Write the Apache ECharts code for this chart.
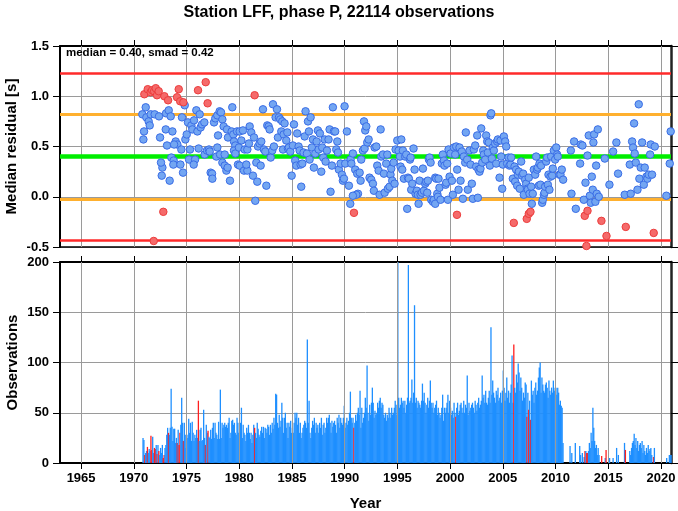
<!DOCTYPE html>
<html><head><meta charset="utf-8">
<script src="https://cdn.jsdelivr.net/npm/echarts@6/dist/echarts.min.js"></script>
<style>html,body{margin:0;padding:0;background:#fff}#c{width:678px;height:511px}</style>
</head><body><div id="c"></div>
<script>
// ---------------- DATA ----------------
const titleText = 'Station LFF, phase P, 22114 observations';
const statsText = 'median = 0.40, smad = 0.42';
const yearTicks = [1965,1970,1975,1980,1985,1990,1995,2000,2005,2010,2015,2020];
const medianLevel = 0.40;
const smadLevels = [-0.02, 0.82];
const twoSmadLevels = [-0.43, 1.23];

const blue1970s = [[1971.13,0.89],[1970.81,0.82],[1971.19,0.79],[1971.41,0.75],[1971.51,0.71],[1971.60,0.82],[1971.98,0.82],[1972.39,0.80],[1970.97,0.65],[1970.91,0.57],[1972.49,0.59],[1973.03,0.67],[1973.15,0.51],[1972.71,0.29],[1972.58,0.34],[1972.65,0.21],[1973.40,0.16],[1973.06,0.83],[1973.31,0.86],[1973.50,0.80],[1973.66,0.65],[1973.97,0.55],[1974.13,0.52],[1973.82,0.52],[1973.56,0.39],[1973.78,0.36],[1973.75,0.32],[1974.42,0.32],[1974.51,0.47],[1974.67,0.24],[1974.57,0.79],[1974.83,0.91],[1974.89,0.57],[1975.02,0.62],[1975.14,0.74],[1975.33,0.47],[1975.24,0.37],[1975.46,0.71],[1975.55,0.67],[1975.71,0.76],[1975.81,0.37],[1975.93,0.86],[1975.68,0.32],[1976.15,0.48],[1976.25,0.82],[1976.03,0.65],[1976.34,0.69],[1976.47,0.72],[1976.69,0.74],[1976.72,0.42],[1976.94,0.46],[1977.13,0.47],[1977.20,0.45],[1977.29,0.24],[1977.42,0.23],[1977.45,0.18],[1977.61,0.74],[1977.73,0.78],[1977.92,0.81],[1978.14,0.85],[1978.27,0.84],[1978.40,0.77],[1978.52,0.70],[1978.84,0.67],[1978.93,0.59],[1977.99,0.61],[1977.92,0.49],[1977.83,0.40],[1978.18,0.42],[1978.62,0.42],[1978.40,0.34],[1978.62,0.31],[1978.78,0.26],[1978.90,0.29],[1979.12,0.16],[1979.34,0.89],[1979.28,0.65],[1979.44,0.62],[1979.50,0.55],[1979.63,0.51],[1979.50,0.46],[1979.63,0.43],[1979.88,0.32],[1979.79,0.65]];

const blue1980s = [[1980.04,0.65],[1980.35,0.66],[1980.20,0.56],[1979.97,0.49],[1980.51,0.47],[1980.77,0.47],[1980.04,0.31],[1980.45,0.26],[1980.77,0.26],[1980.67,0.32],[1980.92,0.53],[1980.99,0.70],[1981.14,0.64],[1981.40,0.59],[1981.30,0.21],[1981.62,0.34],[1981.71,0.15],[1982.03,0.31],[1981.52,-0.04],[1981.78,0.50],[1981.93,0.53],[1982.09,0.55],[1982.25,0.87],[1982.34,0.47],[1982.47,0.45],[1982.57,0.11],[1982.66,0.71],[1982.79,0.70],[1982.88,0.67],[1982.98,0.39],[1983.13,0.46],[1983.20,0.92],[1983.29,0.50],[1983.45,0.79],[1983.58,0.87],[1983.67,0.59],[1983.77,0.79],[1983.89,0.77],[1983.99,0.65],[1984.08,0.75],[1984.21,0.62],[1984.30,0.73],[1984.46,0.56],[1984.56,0.64],[1984.15,0.47],[1984.62,0.48],[1984.71,0.49],[1984.84,0.45],[1984.97,0.21],[1985.09,0.51],[1985.19,0.72],[1985.31,0.36],[1985.41,0.31],[1985.50,0.63],[1985.63,0.50],[1985.73,0.46],[1985.82,0.32],[1985.88,0.10],[1985.98,0.33],[1986.10,0.44],[1986.20,0.60],[1986.29,0.85],[1986.42,0.43],[1986.52,0.75],[1986.61,0.65],[1986.67,0.37],[1986.77,0.79],[1986.89,0.49],[1986.99,0.57],[1987.08,0.29],[1987.21,0.43],[1987.34,0.55],[1987.46,0.66],[1987.53,0.47],[1987.65,0.63],[1987.78,0.25],[1987.87,0.49],[1987.97,0.39],[1988.10,0.57],[1988.19,0.35],[1988.32,0.46],[1988.47,0.57],[1988.57,0.67],[1988.66,0.05],[1988.79,0.31],[1988.88,0.89],[1988.98,0.65],[1989.10,0.65],[1989.20,0.47],[1989.30,0.55],[1989.36,0.44],[1989.45,0.27],[1989.61,0.33],[1989.74,0.22],[1989.83,0.16],[1989.93,0.18],[1989.99,0.90]];

const blue1990s = [[1990.05,0.33],[1990.21,0.65],[1990.40,0.11],[1990.53,-0.07],[1990.56,0.37],[1990.63,0.33],[1990.78,0.43],[1991.00,0.27],[1991.19,0.23],[1991.42,0.24],[1991.51,0.16],[1991.26,0.03],[1991.10,0.02],[1990.78,0.01],[1991.83,0.75],[1991.95,0.66],[1992.05,0.70],[1991.57,0.37],[1991.73,0.46],[1991.89,0.48],[1992.14,0.54],[1992.27,0.57],[1992.36,0.19],[1992.52,0.17],[1992.68,0.13],[1992.77,0.06],[1992.84,0.49],[1993.00,0.50],[1993.09,0.31],[1993.22,0.26],[1993.31,0.02],[1993.41,0.67],[1993.47,0.40],[1993.63,0.42],[1993.72,0.23],[1993.79,0.04],[1993.94,0.33],[1994.04,0.42],[1994.10,0.08],[1994.26,0.10],[1994.35,0.22],[1994.42,0.28],[1994.51,0.16],[1994.64,0.34],[1994.73,0.13],[1994.83,0.47],[1994.99,0.56],[1995.11,0.46],[1995.24,0.40],[1995.30,0.30],[1995.37,0.57],[1995.46,0.27],[1995.52,0.46],[1995.62,0.18],[1995.74,0.40],[1995.84,0.42],[1995.93,-0.12],[1996.00,0.19],[1996.09,0.18],[1996.19,0.37],[1996.25,0.39],[1996.31,0.07],[1996.41,0.13],[1996.53,0.48],[1996.63,0.27],[1996.72,0.03],[1996.85,0.06],[1996.94,0.02],[1997.01,-0.07],[1997.10,0.16],[1997.20,0.02],[1997.32,0.04],[1997.42,0.28],[1997.51,0.06],[1997.64,0.13],[1997.73,0.15],[1997.83,0.04],[1997.89,0.16],[1997.99,0.37],[1998.05,0.39],[1998.15,0.34],[1998.21,-0.03],[1998.37,-0.05],[1998.46,-0.03],[1998.59,-0.07],[1998.59,0.19],[1998.68,0.18],[1998.78,0.03],[1998.84,0.00],[1998.90,0.18],[1998.99,0.09],[1999.09,-0.03],[1999.22,0.33],[1999.31,0.42],[1999.41,0.36],[1999.47,0.31],[1999.57,0.12],[1999.63,0.14],[1999.72,0.33],[1999.79,-0.03],[1999.85,0.47],[1999.95,0.20]];

const blue2000s = [[2000.04,0.43],[2000.17,0.16],[2000.26,0.02],[2000.36,0.49],[2000.48,0.42],[2000.58,0.50],[2000.67,0.27],[2000.80,0.07],[2000.89,0.49],[2000.99,0.16],[2001.11,0.45],[2001.21,-0.02],[2001.30,0.40],[2001.43,0.34],[2001.49,0.64],[2001.62,0.37],[2001.68,0.07],[2001.84,0.46],[2001.94,0.32],[2002.06,0.13],[2002.16,-0.02],[2002.25,0.47],[2002.38,0.51],[2002.47,0.30],[2002.57,0.61],[2002.63,-0.01],[2002.69,0.27],[2002.79,0.25],[2002.88,0.28],[2002.95,0.68],[2003.04,0.34],[2003.14,0.46],[2003.20,0.42],[2003.33,0.37],[2003.42,0.61],[2003.52,0.55],[2003.58,0.44],[2003.67,0.54],[2003.77,0.31],[2003.83,0.81],[2003.90,0.83],[2003.96,0.38],[2004.05,0.49],[2004.15,0.46],[2004.27,0.53],[2004.37,0.33],[2004.46,0.55],[2004.53,0.57],[2004.69,0.19],[2004.78,0.56],[2004.84,0.40],[2004.94,0.08],[2005.00,0.32],[2005.10,0.60],[2005.22,0.55],[2005.32,0.50],[2005.41,0.33],[2005.54,0.39],[2005.63,0.31],[2005.73,0.32],[2005.79,0.39],[2005.95,0.18],[2006.11,0.30],[2006.17,0.15],[2006.26,0.27],[2006.36,0.11],[2006.42,0.22],[2006.52,0.25],[2006.61,0.08],[2006.74,0.35],[2006.83,0.21],[2006.93,0.23],[2006.99,0.02],[2007.12,0.17],[2007.21,0.13],[2007.31,0.08],[2007.37,0.07],[2007.46,0.19],[2007.53,0.03],[2007.69,0.10],[2007.75,-0.07],[2007.84,0.03],[2007.94,0.27],[2008.07,0.22],[2008.16,0.40],[2008.25,0.27],[2008.32,0.29],[2008.41,0.11],[2008.48,0.33],[2008.57,0.12],[2008.63,0.31],[2008.73,-0.06],[2008.79,-0.03],[2008.89,0.02],[2008.95,0.04],[2009.01,0.10],[2009.11,0.35],[2009.20,0.39],[2009.27,0.12],[2009.33,0.22],[2009.42,0.07],[2009.52,0.20],[2009.58,0.40],[2009.68,0.21],[2009.74,0.28],[2009.84,0.46],[2009.96,0.37]];

const blue2010s = [[2010.06,0.49],[2010.15,0.42],[2010.21,0.40],[2010.37,0.22],[2010.47,0.22],[2010.59,0.27],[2010.72,0.17],[2011.45,0.46],[2011.51,0.03],[2011.76,0.55],[2011.92,-0.12],[2012.33,0.33],[2012.39,0.52],[2012.55,0.51],[2012.68,-0.03],[2012.84,0.14],[2013.03,0.41],[2013.15,0.61],[2013.25,0.01],[2013.34,-0.06],[2013.44,0.20],[2013.53,0.07],[2013.59,0.54],[2013.66,0.62],[2013.78,-0.05],[2013.85,0.31],[2013.91,0.03],[2014.01,0.67],[2014.10,0.00],[2014.67,0.38],[2015.11,0.12],[2015.46,0.45],[2015.77,0.54],[2015.93,0.23],[2016.56,0.02],[2017.04,0.32],[2017.13,0.03],[2017.26,0.55],[2017.35,0.49],[2017.45,0.73],[2017.51,0.43],[2017.61,0.34],[2017.77,0.07],[2017.89,0.92],[2017.95,0.18],[2018.08,0.29],[2018.21,0.54],[2018.37,0.12],[2018.46,0.29],[2018.62,0.20],[2018.71,0.18],[2018.84,0.22],[2018.97,0.42],[2019.03,0.52],[2019.15,0.22],[2019.41,0.50],[2020.51,0.01],[2020.83,0.33],[2020.92,0.65]];

const redPoints = [[1971.00,1.02],[1971.32,1.07],[1971.60,1.04],[1971.74,1.06],[1971.93,1.05],[1972.08,1.08],[1972.20,1.01],[1972.36,1.05],[1972.90,1.00],[1973.25,0.96],[1974.10,0.99],[1974.26,1.07],[1974.40,0.95],[1974.70,0.94],[1976.09,1.06],[1976.82,1.14],[1977.00,0.93],[1972.80,-0.15],[1971.89,-0.44],[1981.46,1.01],[1990.88,-0.16],[2000.65,-0.18],[2006.04,-0.26],[2007.27,-0.22],[2007.46,-0.17],[2007.62,-0.15],[2012.77,-0.19],[2013.03,-0.14],[2012.93,-0.49],[2014.35,-0.24],[2014.83,-0.39],[2016.66,-0.30],[2019.31,-0.36]];

// Monthly observation counts (Jan..Dec for each year)
const obs1970s = [
0,0,0,0,0,0,0,0,0,0,25,23,
8,10,12,16,10,14,12,27,13,26,10,15,
14,18,9,18,12,8,15,10,18,5,8,15,
18,28,35,30,28,35,74,36,22,34,34,20,
25,20,33,18,30,38,65,40,22,40,28,15,
28,25,44,30,40,22,41,30,22,28,25,33,
25,62,22,33,35,22,23,53,25,18,38,30,
32,26,25,33,24,35,40,25,40,30,28,24,
41,24,73,25,40,35,38,40,36,38,35,40,
45,25,30,42,43,38,40,30,28,45,40,30];
const obs1980s = [
36,40,55,25,38,30,28,22,35,30,38,30,
24,30,20,28,38,35,30,25,40,34,28,26,
32,36,30,36,25,35,34,30,38,36,28,38,
30,40,34,45,38,69,68,40,35,48,36,42,
60,45,30,45,50,35,40,25,40,36,42,30,
35,30,40,50,45,50,38,45,30,40,25,30,
35,38,42,40,35,123,40,62,30,25,35,42,
38,45,30,40,35,38,30,40,35,45,28,38,
40,30,35,45,40,45,48,40,30,42,36,40,
42,38,30,45,40,48,35,45,40,38,45,57];
const obs1990s = [
35,40,45,38,42,50,71,45,40,45,35,40,
48,42,50,55,48,72,35,55,40,45,50,65,
55,97,50,42,58,48,60,75,60,45,52,48,
50,60,55,62,65,55,60,58,48,45,50,42,
48,45,55,50,45,55,48,50,55,62,58,48,
200,65,55,58,65,60,62,55,62,50,58,65,
197,60,62,65,83,60,70,157,60,65,55,62,
60,58,55,62,79,62,70,60,50,58,65,55,
62,82,60,55,60,50,55,58,62,48,55,50,
45,48,55,68,42,55,50,55,60,68,50,62];
const obs2000s = [
55,48,52,45,60,50,46,55,60,48,52,58,
60,55,50,62,50,58,55,87,48,60,52,55,
58,60,55,50,62,58,52,60,65,55,58,62,
87,65,68,60,72,60,58,65,72,60,135,68,
82,70,65,60,72,68,75,62,65,70,60,72,
92,75,62,70,85,65,72,60,70,78,107,60,
118,75,70,88,80,99,90,72,85,75,62,70,
65,80,78,46,70,53,62,43,82,68,72,60,
75,80,68,72,85,95,100,70,85,78,72,70,
78,80,75,65,82,72,68,75,70,82,72,75];
const obs2010s = [
75,68,75,70,58,62,57,55,20,0,0,0,
0,0,0,0,17,0,10,0,0,0,20,0,
0,0,0,17,8,0,10,0,6,12,12,10,
10,12,20,15,30,22,55,35,22,15,18,8,
15,8,0,0,7,0,0,0,5,13,0,0,
0,5,0,0,0,5,0,0,0,15,0,8,
0,0,0,0,0,0,20,13,0,0,0,0,
12,8,15,20,22,29,18,25,15,22,12,18,
20,15,22,10,18,12,8,15,10,18,12,14,
15,8,0,6,15,0,0,0,0,0,0,0];
const obs2020s = [0,0,0,0,0,0,5,0,0,8,8,8];

const redMonths = ['1971-01','1971-04','1971-08','1971-09','1971-12','1972-01','1972-03','1972-05','1972-10','1972-11','1973-04','1974-02','1974-04','1974-05','1974-09','1976-02','1976-10','1977-01','1981-06','1990-11','2000-07','2006-01','2007-04','2007-06','2007-08','2012-10','2012-12','2013-01','2014-05','2014-10','2016-08','2019-04'];

// ---------------- BUILD ----------------
const FONT = '"Liberation Sans", Arial, Helvetica, sans-serif';
const BLUE_BAR = '#1e8fff', RED_BAR = '#ff1f1f';
function monthBars(startYear, counts) {
  const out = [];
  counts.forEach((c, i) => {
    if (!c) return;
    const yr = startYear + Math.floor(i / 12), m = i % 12 + 1;
    const key = yr + '-' + (m < 10 ? '0' + m : m);
    const x = yr + (m - 0.5) / 12;
    const red = redMonths.indexOf(key) >= 0;
    out.push({ value: [x, c], itemStyle: { color: red ? RED_BAR : BLUE_BAR } });
  });
  return out;
}
const barData = [].concat(
  monthBars(1970, obs1970s), monthBars(1980, obs1980s), monthBars(1990, obs1990s),
  monthBars(2000, obs2000s), monthBars(2010, obs2010s), monthBars(2020, obs2020s));
const bluePoints = [].concat(blue1970s, blue1980s, blue1990s, blue2000s, blue2010s);

const XMIN = 1963, XMAX = 2020.95;
const gridColor = '#9a9a9a';
const labelStyle = { fontFamily: FONT, fontWeight: 'bold', fontSize: 13, color: '#000' };
const nameStyle = { fontFamily: FONT, fontWeight: 'bold', fontSize: 15, color: '#000' };
function xAx(gridIndex, position, opts) {
  return Object.assign({
    type: 'value', gridIndex, position, min: XMIN, max: XMAX,
    axisLine: { show: true, onZero: false, lineStyle: { color: '#000', width: 1.5 } },
    axisTick: { show: true, inside: false, length: 6, customValues: yearTicks, lineStyle: { color: '#000', width: 1 } },
    axisLabel: { show: false },
    splitLine: { show: false }
  }, opts || {});
}
function yAx(gridIndex, position, min, max, interval, opts) {
  return Object.assign({
    type: 'value', gridIndex, position, min, max, interval,
    axisLine: { show: true, lineStyle: { color: '#000', width: 2 } },
    axisTick: { show: true, inside: false, length: 7, lineStyle: { color: '#000', width: 1 } },
    axisLabel: { show: false },
    splitLine: { show: false }
  }, opts || {});
}
const vGrid = (xi, yi) => ({
  type: 'line', xAxisIndex: xi, yAxisIndex: yi, data: [], z: 0, silent: true,
  markLine: { silent: true, symbol: 'none', animation: false, label: { show: false },
    lineStyle: { color: gridColor, width: 1, type: 'solid' },
    data: yearTicks.map(v => ({ xAxis: v })) }
});
const hLine = (value, color, width) => ({ yAxis: value, lineStyle: { color, width, type: 'solid' } });

const option = {
  animation: false,
  backgroundColor: '#fff',
  title: { text: titleText, left: 'center', top: 0,
    textStyle: { fontFamily: FONT, fontWeight: 'bold', fontSize: 16, color: '#000' } },
  graphic: [{ type: 'text', left: 66, top: 47, z: 100,
    style: { text: statsText, font: 'bold 11.5px ' + FONT, fill: '#000' } }],
  grid: [
    { left: 60, right: 7, top: 46, height: 201, show: false, containLabel: false, outerBoundsMode: 'none' },
    { left: 60, right: 7, top: 262, height: 201, show: false, containLabel: false, outerBoundsMode: 'none' }
  ],
  xAxis: [
    xAx(0, 'bottom', { axisTick: { show: false } }),
    xAx(0, 'top', { axisLine: { show: true, onZero: false, lineStyle: { color: '#000', width: 2 } } }),
    xAx(1, 'bottom', { axisLine: { show: true, onZero: false, lineStyle: { color: '#000', width: 2 } },
      axisLabel: Object.assign({ show: true, margin: 9, customValues: yearTicks, formatter: v => String(Math.round(v)) }, labelStyle),
      name: 'Year', nameLocation: 'middle', nameGap: 33, nameMoveOverlap: false,
      nameTextStyle: nameStyle }),
    xAx(1, 'top', { axisLine: { show: true, onZero: false, lineStyle: { color: '#000', width: 2 } } })
  ],
  yAxis: [
    yAx(0, 'left', -0.5, 1.5, 0.5, {
      axisLabel: Object.assign({ show: true, margin: 11, formatter: v => v.toFixed(1) }, labelStyle),
      splitLine: { show: true, lineStyle: { color: gridColor, width: 1 } },
      name: 'Median residual [s]', nameLocation: 'middle', nameGap: 41, nameMoveOverlap: false,
      nameTextStyle: nameStyle }),
    yAx(0, 'right', -0.5, 1.5, 0.5, { axisLine: { show: true, lineStyle: { color: '#222', width: 2.5 } } }),
    yAx(1, 'left', 0, 200, 50, {
      axisLabel: Object.assign({ show: true, margin: 11 }, labelStyle),
      splitLine: { show: true, lineStyle: { color: gridColor, width: 1 } },
      name: 'Observations', nameLocation: 'middle', nameGap: 40, nameMoveOverlap: false,
      nameTextStyle: nameStyle }),
    yAx(1, 'right', 0, 200, 50, { axisLine: { show: true, lineStyle: { color: '#222', width: 2.5 } } })
  ],
  series: [
    vGrid(0, 0),
    vGrid(2, 2),
    { type: 'line', xAxisIndex: 0, yAxisIndex: 0, data: [], z: 1, silent: true,
      markLine: { silent: true, symbol: 'none', animation: false, label: { show: false },
        data: [
          hLine(twoSmadLevels[1], '#ff2a2a', 2.5),
          hLine(smadLevels[1], '#ffb02e', 3),
          hLine(medianLevel, '#00ee00', 4.5),
          hLine(smadLevels[0], '#ffb02e', 3),
          hLine(twoSmadLevels[0], '#ff2a2a', 2.5)
        ] } },
    { type: 'scatter', xAxisIndex: 0, yAxisIndex: 0, data: bluePoints, symbol: 'circle', symbolSize: 7.5, z: 5,
      itemStyle: { color: '#73a6f2', borderColor: '#3a6de6', borderWidth: 1, opacity: 1 } },
    { type: 'scatter', xAxisIndex: 0, yAxisIndex: 0, data: redPoints, symbol: 'circle', symbolSize: 7.5, z: 6,
      itemStyle: { color: '#f56a6a', borderColor: '#ec3d3d', borderWidth: 1, opacity: 1 } },
    { type: 'bar', xAxisIndex: 2, yAxisIndex: 2, data: barData, barWidth: 1.3, z: 3,
      itemStyle: { color: BLUE_BAR } }
  ]
};
const chart = echarts.init(document.getElementById('c'), null, { renderer: 'canvas' });
chart.setOption(option);
</script>
</body></html>
